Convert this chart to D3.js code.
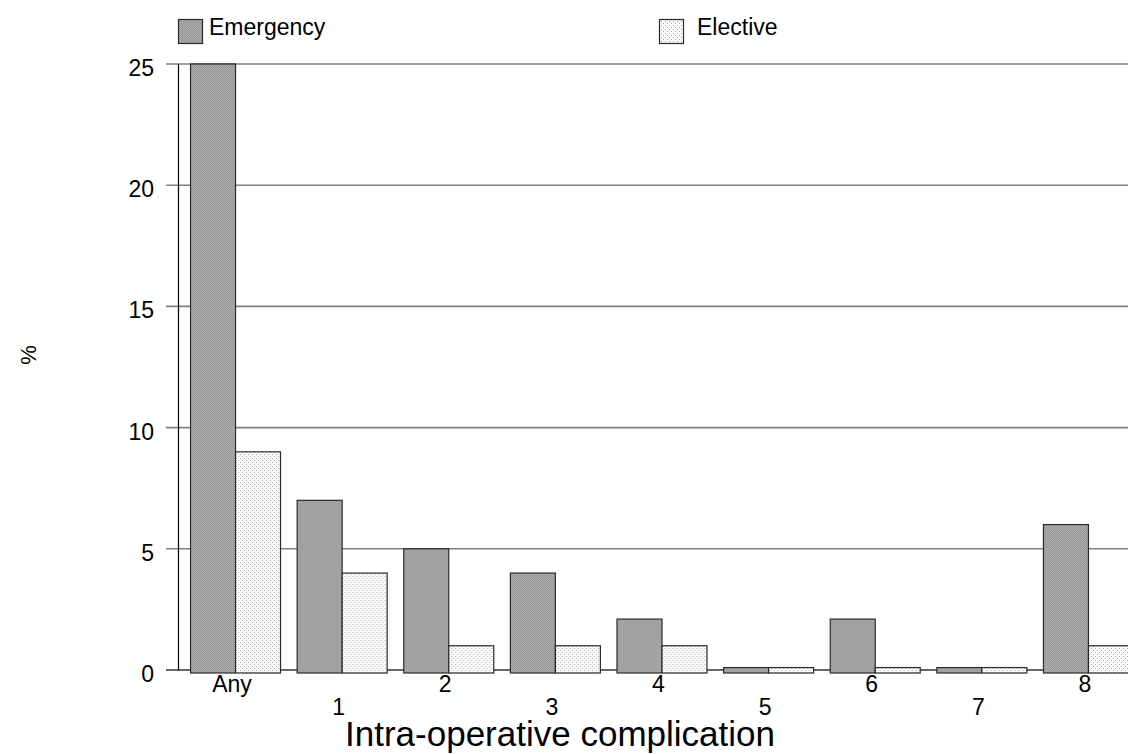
<!DOCTYPE html>
<html>
<head>
<meta charset="utf-8">
<script src="https://cdn.jsdelivr.net/npm/d3@7"></script>
<style>
  html, body { margin: 0; padding: 0; background: #fff; overflow: hidden; }
  svg { display: block; font-family: "Liberation Sans", Arial, sans-serif; }
</style>
</head>
<body>
<svg id="chart" width="1128" height="754"></svg>
<script>
const categories = ["Any", "1", "2", "3", "4", "5", "6", "7", "8"];
const seriesNames = ["Emergency", "Elective"];
const emergency = [25, 7, 5, 4, 2.1, 0.1, 2.1, 0.1, 6];
const elective = [9, 4, 1, 1, 1, 0.1, 0.1, 0.1, 1];
const yTicks = [0, 5, 10, 15, 20, 25];
const xTitle = "Intra-operative complication";
const yTitle = "%";

const svg = d3.select("#chart");
const defs = svg.append("defs");

// Emergency texture: dotted gray
const p1 = defs.append("pattern").attr("id", "patEm").attr("patternUnits", "userSpaceOnUse")
  .attr("width", 2).attr("height", 2);
p1.append("rect").attr("width", 2).attr("height", 2).attr("fill", "#b0b0b0");
p1.append("rect").attr("width", 1).attr("height", 1).attr("fill", "#949494");
p1.append("rect").attr("x", 1).attr("y", 1).attr("width", 1).attr("height", 1).attr("fill", "#949494");

// Elective texture: white with sparse dots
const p2 = defs.append("pattern").attr("id", "patEl").attr("patternUnits", "userSpaceOnUse")
  .attr("width", 4).attr("height", 4);
p2.append("rect").attr("width", 4).attr("height", 4).attr("fill", "#fbfbfb");
p2.append("rect").attr("width", 1).attr("height", 1).attr("fill", "#a8a8a8");
p2.append("rect").attr("x", 2).attr("y", 2).attr("width", 1).attr("height", 1).attr("fill", "#a8a8a8");

const fills = { "Emergency": "url(#patEm)", "Elective": "url(#patEl)" };

const axisX = 178.5;
const y = d3.scaleLinear().domain([0, 25]).range([670, 64]);
const x = d3.scaleBand().domain(categories).range([178, 1145]).paddingInner(0.156).paddingOuter(0.113);
const xs = d3.scaleBand().domain(seriesNames).range([0, x.bandwidth()]);

// gridlines
svg.append("g").selectAll("line").data(yTicks.filter(t => t > 0)).join("line")
  .attr("x1", 166).attr("x2", 1128)
  .attr("y1", d => y(d)).attr("y2", d => y(d))
  .attr("stroke", "#808080").attr("stroke-width", 1.6);

// baseline
svg.append("line").attr("x1", 166).attr("x2", 1128).attr("y1", y(0)).attr("y2", y(0))
  .attr("stroke", "#333").attr("stroke-width", 1.6);

// y axis line
svg.append("line").attr("x1", axisX).attr("x2", axisX).attr("y1", y(25)).attr("y2", y(0))
  .attr("stroke", "#000").attr("stroke-width", 1.2);

// y tick labels
svg.append("g").selectAll("text").data(yTicks).join("text")
  .attr("x", 154).attr("y", d => y(d) + 12)
  .attr("text-anchor", "end").attr("font-size", 23).attr("fill", "#000")
  .text(d => d);

// bars
const rows = categories.map((c, i) => ({ cat: c, vals: [
  { s: "Emergency", v: emergency[i] }, { s: "Elective", v: elective[i] }] }));
const groups = svg.append("g").selectAll("g").data(rows).join("g")
  .attr("transform", d => `translate(${x(d.cat)},0)`);
groups.selectAll("rect").data(d => d.vals).join("rect")
  .attr("x", d => xs(d.s) + 0.5)
  .attr("width", xs.bandwidth())
  .attr("y", d => y(d.v))
  .attr("height", d => y(0) + 3 - y(d.v))
  .attr("fill", d => fills[d.s])
  .attr("stroke", "#2a2a2a").attr("stroke-width", 1.2);

// x tick labels (staggered)
svg.append("g").selectAll("text").data(categories).join("text")
  .attr("x", d => x(d) + x.bandwidth() / 2 - 3)
  .attr("y", (d, i) => i % 2 === 0 ? 692 : 715)
  .attr("text-anchor", "middle").attr("font-size", 23).attr("fill", "#000")
  .text(d => d);

// x title
svg.append("text").attr("x", 560).attr("y", 746).attr("text-anchor", "middle")
  .attr("font-size", 35).attr("fill", "#000").text(xTitle);

// y title
svg.append("text").attr("transform", "translate(36,355) rotate(-90)")
  .attr("text-anchor", "middle").attr("font-size", 22).attr("fill", "#000").text(yTitle);

// legend
const legendPos = [{ s: "Emergency", x: 178 }, { s: "Elective", x: 659 }];
const lg = svg.append("g").selectAll("g").data(legendPos).join("g")
  .attr("transform", d => `translate(${d.x},19)`);
lg.append("rect").attr("x", 0.5).attr("y", 0.5).attr("width", 24).attr("height", 24)
  .attr("fill", d => fills[d.s]).attr("stroke", "#2a2a2a").attr("stroke-width", 1.2);
lg.append("text").attr("x", d => d.s === "Emergency" ? 31 : 38).attr("y", 16)
  .attr("font-size", 23).attr("fill", "#000").text(d => d.s);
</script>
</body>
</html>
